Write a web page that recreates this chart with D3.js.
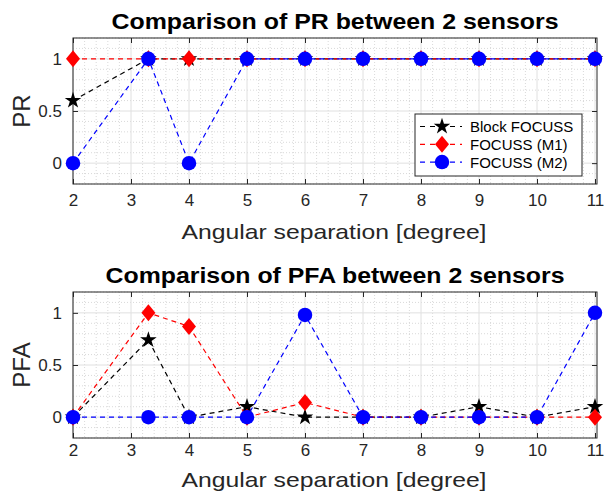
<!DOCTYPE html>
<html>
<head>
<meta charset="utf-8">
<script src="https://cdn.jsdelivr.net/npm/d3@7"></script>
<style>
  body { margin: 0; background: #fff; }
  svg { font-family: "Liberation Sans", Arial, sans-serif; }
</style>
</head>
<body>
<svg id="chart" width="605" height="496"></svg>
<script>
const angles = [2, 3.3, 4, 5, 6, 7, 8, 9, 10, 11];
const xTicks = [2, 3, 4, 5, 6, 7, 8, 9, 10, 11];
const yTicks = [0, 0.5, 1];

const prBlock = [0.6, 1, 1, 1, 1, 1, 1, 1, 1, 1];
const prM1 = [1, 1, 1, 1, 1, 1, 1, 1, 1, 1];
const prM2 = [0, 1, 0, 1, 1, 1, 1, 1, 1, 1];

const pfaBlock = [0, 0.74, 0, 0.1, 0, 0, 0, 0.1, 0, 0.1];
const pfaM1 = [0, 1, 0.87, 0, 0.14, 0, 0, 0, 0, 0];
const pfaM2 = [0, 0, 0, 0, 0.98, 0, 0, 0, 0, 1];

const seriesNames = ["Block FOCUSS", "FOCUSS (M1)", "FOCUSS (M2)"];
const seriesColors = ["#000000", "#ff0000", "#0000ff"];

const svg = d3.select("#chart");
const axisColor = "#262626";

function markerPath(i) {
  if (i === 0) return d3.symbol().type(d3.symbolStar).size(85)();
  if (i === 1) return "M0,-8.5L7,0L0,8.5L-7,0Z";
  return d3.symbol().type(d3.symbolCircle).size(165)();
}

function panel(cfg) {
  const top = cfg.top, left = 73, right = 597, bottom = top + 146;
  const x = d3.scaleLinear().domain([2, 11]).range([left, right - 2]);
  const y = d3.scaleLinear().domain([-0.2, 1.2]).range([bottom, top]);
  const g = svg.append("g");

  // minor grid
  const xMinor = d3.range(2, 11.001, 0.2).filter(v => Math.abs(v - Math.round(v)) > 1e-6);
  const yMinor = d3.range(-0.2, 1.2001, 0.1).filter(v => Math.abs(v * 2 - Math.round(v * 2)) > 1e-6);
  g.selectAll(".xm").data(xMinor).enter().append("line")
    .attr("x1", d => x(d)).attr("x2", d => x(d)).attr("y1", top).attr("y2", bottom)
    .attr("stroke", "#cfcfcf").attr("stroke-width", 0.8).attr("stroke-dasharray", "1,2");
  g.selectAll(".ym").data(yMinor).enter().append("line")
    .attr("x1", left).attr("x2", right).attr("y1", d => y(d)).attr("y2", d => y(d))
    .attr("stroke", "#cfcfcf").attr("stroke-width", 0.8).attr("stroke-dasharray", "1,2");
  // major grid
  g.selectAll(".xg").data(xTicks).enter().append("line")
    .attr("x1", d => x(d)).attr("x2", d => x(d)).attr("y1", top).attr("y2", bottom)
    .attr("stroke", "#e0e0e0").attr("stroke-width", 1);
  g.selectAll(".yg").data(yTicks).enter().append("line")
    .attr("x1", left).attr("x2", right).attr("y1", d => y(d)).attr("y2", d => y(d))
    .attr("stroke", "#e0e0e0").attr("stroke-width", 1);

  // axes with inward ticks
  const axB = g.append("g").attr("transform", `translate(0,${bottom})`)
    .call(d3.axisBottom(x).tickValues(xTicks).tickSize(-5).tickPadding(cfg.tickPad).tickFormat(d3.format("d")));
  const axT = g.append("g").attr("transform", `translate(0,${top})`)
    .call(d3.axisTop(x).tickValues(xTicks).tickSize(-5).tickFormat(""));
  const axL = g.append("g").attr("transform", `translate(${left},0)`)
    .call(d3.axisLeft(y).tickValues(yTicks).tickSize(-5).tickPadding(11).tickFormat(d => d === 0.5 ? "0.5" : d));
  const axR = g.append("g").attr("transform", `translate(${right},0)`)
    .call(d3.axisRight(y).tickValues(yTicks).tickSize(-5).tickFormat(""));
  [axB, axT, axL, axR].forEach(a => {
    a.select(".domain").remove();
    a.selectAll("line").attr("stroke", axisColor);
    a.selectAll("text").attr("fill", axisColor).style("font-size", "17px");
  });
  g.append("rect").attr("x", left).attr("y", top).attr("width", right - left).attr("height", bottom - top)
    .attr("fill", "none").attr("stroke", axisColor).attr("stroke-width", 1);

  // series
  const line = d3.line().x((d, i) => x(angles[i])).y(d => y(d));
  cfg.data.forEach((vals, s) => {
    g.append("path").datum(vals).attr("d", line)
      .attr("fill", "none").attr("stroke", seriesColors[s]).attr("stroke-width", 1.2)
      .attr("stroke-dasharray", "5,4");
    g.selectAll(".m" + s).data(vals).enter().append("path")
      .attr("d", markerPath(s))
      .attr("transform", (d, i) => `translate(${x(angles[i])},${y(d)})`)
      .attr("fill", seriesColors[s]);
  });

  // titles
  svg.append("text").attr("x", 335).attr("y", top - 9).attr("text-anchor", "middle")
    .attr("textLength", cfg.titleLen).attr("lengthAdjust", "spacingAndGlyphs")
    .style("font-size", "22px").style("font-weight", "bold").attr("fill", "#000").text(cfg.title);
  svg.append("text").attr("x", 334).attr("y", cfg.labelY).attr("text-anchor", "middle")
    .attr("textLength", 305).attr("lengthAdjust", "spacingAndGlyphs")
    .style("font-size", "21px").attr("fill", axisColor).text("Angular separation [degree]");
  svg.append("text").attr("transform", `translate(30,${(top + bottom) / 2}) rotate(-90)`)
    .attr("text-anchor", "middle").style("font-size", "24px").attr("fill", axisColor).text(cfg.ylabel);

  if (cfg.legend) {
    const lg = svg.append("g").attr("transform", "translate(415,114)");
    lg.append("rect").attr("width", 167).attr("height", 62)
      .attr("fill", "#fff").attr("stroke", axisColor).attr("stroke-width", 1);
    seriesNames.forEach((name, s) => {
      const cy = 12.5 + s * 17.8;
      lg.append("line").attr("x1", 5).attr("x2", 47).attr("y1", cy).attr("y2", cy)
        .attr("stroke", seriesColors[s]).attr("stroke-width", 1.2).attr("stroke-dasharray", "5,5");
      lg.append("path").attr("d", markerPath(s)).attr("transform", `translate(27,${cy})`)
        .attr("fill", seriesColors[s]);
      lg.append("text").attr("x", 55).attr("y", cy + 5.5).style("font-size", "15px")
        .attr("fill", "#000").text(name);
    });
  }
}

panel({ top: 38, title: "Comparison of PR between 2 sensors", titleLen: 447, ylabel: "PR",
  data: [prBlock, prM1, prM2], legend: true, tickPad: 10, labelY: 239 });
panel({ top: 292, title: "Comparison of PFA between 2 sensors", titleLen: 459, ylabel: "PFA",
  data: [pfaBlock, pfaM1, pfaM2], legend: false, tickPad: 6, labelY: 487 });
</script>
</body>
</html>
